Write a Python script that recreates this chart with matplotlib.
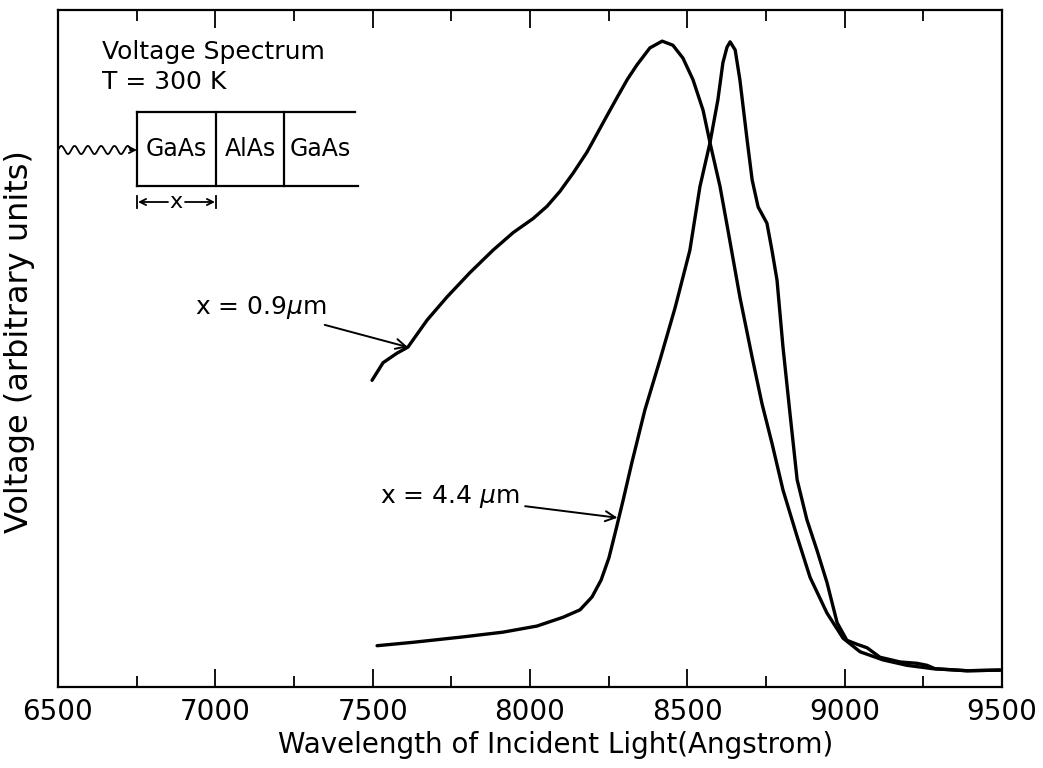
import numpy as np
import matplotlib
matplotlib.use("Agg")
import matplotlib.pyplot as plt
from matplotlib.ticker import MultipleLocator

# ---- data ----
# x = 0.9 um curve
wl_a = [7498, 7533, 7577, 7612, 7673, 7736, 7809, 7882, 7946, 8010, 8054, 8095,
        8137, 8181, 8200, 8240, 8277, 8310, 8340, 8381, 8420, 8454, 8486, 8518,
        8550, 8572, 8604, 8629, 8667, 8706, 8737, 8769, 8804, 8849, 8890, 8944,
        8995, 9049, 9122, 9198, 9281, 9389, 9494]
volt_a = [45.3, 47.9, 49.3, 50.2, 54.2, 57.6, 61.2, 64.5, 67.1, 69.2, 71.0, 73.2,
          75.9, 79.0, 80.6, 84.0, 87.1, 89.8, 91.9, 94.4, 95.4, 94.8, 92.9, 89.7,
          85.2, 80.4, 73.9, 67.5, 57.6, 48.7, 41.9, 36.0, 29.1, 22.2, 16.2, 10.9,
          7.2, 5.2, 4.0, 3.2, 2.7, 2.4, 2.5]

# x = 4.4 um curve
wl_b = [7514, 7628, 7787, 7914, 8022, 8105, 8159, 8197, 8226, 8251, 8273, 8296,
        8324, 8365, 8413, 8461, 8508, 8540, 8572, 8597, 8613, 8626, 8636, 8652,
        8667, 8690, 8706, 8725, 8753, 8769, 8785, 8804, 8826, 8849, 8880, 8912,
        8944, 8976, 9007, 9040, 9071, 9112, 9176, 9230, 9262, 9287, 9389, 9494]
volt_b = [6.1, 6.6, 7.4, 8.1, 9.0, 10.3, 11.4, 13.3, 15.8, 19.1, 23.2, 27.6,
          33.2, 40.9, 48.3, 56.0, 64.5, 73.9, 80.4, 86.7, 92.2, 94.5, 95.3, 94.1,
          89.7, 80.8, 74.9, 70.9, 68.5, 64.5, 60.1, 50.2, 40.5, 30.6, 24.7, 20.2,
          15.4, 9.5, 6.9, 6.3, 5.8, 4.4, 3.7, 3.5, 3.2, 2.7, 2.4, 2.5]

x_ticks = [6500, 7000, 7500, 8000, 8500, 9000, 9500]
x_tick_labels = ["6500", "7000", "7500", "8000", "8500", "9000", "9500"]

label_a = "x = 0.9$\\mu$m"
label_b = "x = 4.4 $\\mu$m"
point_a = (7612, 50.2)
point_b = (8278, 25.0)

# ---- figure ----
fig = plt.figure(figsize=(10.43, 7.68), dpi=100)
ax = fig.add_axes([58 / 1043, 81 / 768, 944 / 1043, 677 / 768])

ax.plot(wl_a, volt_a, color="black", lw=2.4, solid_capstyle="round", solid_joinstyle="round")
ax.plot(wl_b, volt_b, color="black", lw=2.4, solid_capstyle="round", solid_joinstyle="round")

ax.set_xlim(6500, 9500)
ax.set_ylim(0, 100)
ax.set_xticks(x_ticks)
ax.set_xticklabels(x_tick_labels)
ax.xaxis.set_minor_locator(MultipleLocator(250))
ax.set_yticks([])
ax.tick_params(axis="x", which="major", direction="in", length=13, width=1.3,
               top=True, labelsize=20, pad=8)
ax.tick_params(axis="x", which="minor", direction="in", length=8, width=1.3, top=True)
for s in ax.spines.values():
    s.set_linewidth(1.6)

ax.set_xlabel("Wavelength of Incident Light(Angstrom)", fontsize=20)
ax.xaxis.set_label_coords(0.527, -0.065)
ax.set_ylabel("Voltage (arbitrary units)", fontsize=23)
ax.yaxis.set_label_coords(-0.024, 0.51)

# ---- annotations with arrows ----
ax.annotate(label_a, xy=point_a, xycoords="data",
            xytext=(0.285, 0.56), textcoords="axes fraction",
            ha="right", va="center", fontsize=18,
            arrowprops=dict(arrowstyle="->", color="black", lw=1.4,
                            mutation_scale=18, shrinkA=2, shrinkB=0))
ax.annotate(label_b, xy=point_b, xycoords="data",
            xytext=(0.489, 0.281), textcoords="axes fraction",
            ha="right", va="center", fontsize=18,
            arrowprops=dict(arrowstyle="->", color="black", lw=1.4,
                            mutation_scale=18, shrinkA=2, shrinkB=0))

# ---- inset schematic (axes fraction coords) ----
T = ax.transAxes
def fx(px):
    return (px - 58) / 944
def fy(py):
    return (687 - py) / 677

ax.text(fx(102), fy(52), "Voltage Spectrum", transform=T, fontsize=18, ha="left", va="center")
ax.text(fx(102), fy(82), "T = 300 K", transform=T, fontsize=18, ha="left", va="center")

lw_box = 1.6
ax.plot([fx(137), fx(355)], [fy(112), fy(112)], transform=T, color="black", lw=lw_box, clip_on=False)
ax.plot([fx(137), fx(358)], [fy(186), fy(186)], transform=T, color="black", lw=lw_box, clip_on=False)
for px in (137, 216, 284):
    ax.plot([fx(px), fx(px)], [fy(112), fy(186)], transform=T, color="black", lw=lw_box)

for px, txt in ((176, "GaAs"), (250, "AlAs"), (320, "GaAs")):
    ax.text(fx(px), fy(149), txt, transform=T, fontsize=17, ha="center", va="center")

# wavy incident-light arrow
t = np.linspace(0, 1, 300)
wx = fx(58) + t * (fx(131) - fx(58))
wy = fy(150) + 0.006 * np.sin(t * 2 * np.pi * 5.5)
ax.plot(wx, wy, transform=T, color="black", lw=1.3)
ax.annotate("", xy=(fx(137), fy(150)), xycoords=T, xytext=(fx(130), fy(150)), textcoords=T,
            arrowprops=dict(arrowstyle="->", color="black", lw=1.3, mutation_scale=11,
                            shrinkA=0, shrinkB=0))

# dimension "x"
ycd = fy(202)
ax.text(fx(176), ycd, "x", transform=T, fontsize=16, ha="center", va="center")
ax.annotate("", xy=(fx(138), ycd), xycoords=T, xytext=(fx(168), ycd), textcoords=T,
            arrowprops=dict(arrowstyle="->", color="black", lw=1.3, mutation_scale=11,
                            shrinkA=0, shrinkB=0))
ax.annotate("", xy=(fx(215), ycd), xycoords=T, xytext=(fx(185), ycd), textcoords=T,
            arrowprops=dict(arrowstyle="->", color="black", lw=1.3, mutation_scale=11,
                            shrinkA=0, shrinkB=0))
for px in (137, 216):
    ax.plot([fx(px), fx(px)], [fy(196), fy(208)], transform=T, color="black", lw=1.3)

fig.savefig("out.png", dpi=100)
